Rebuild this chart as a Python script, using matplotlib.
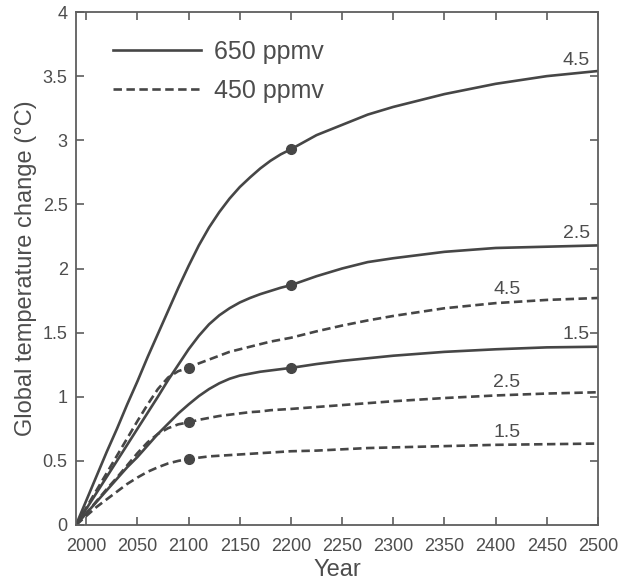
import numpy as np
import matplotlib
matplotlib.use("Agg")
import matplotlib.pyplot as plt
from matplotlib.lines import Line2D

plt.rcParams['font.family'] = ['Liberation Sans', 'DejaVu Sans']

# Years shared by every curve
years = [1990, 2000, 2010, 2020, 2030, 2040, 2050, 2060, 2070, 2080, 2090,
         2100, 2110, 2120, 2130, 2140, 2150, 2160, 2170, 2180, 2190, 2200,
         2225, 2250, 2275, 2300, 2350, 2400, 2450, 2500]

# 650 ppmv stabilisation, climate sensitivity 4.5 / 2.5 / 1.5 °C
s650_45 = [0, 0.19, 0.38, 0.57, 0.75, 0.94, 1.12, 1.31, 1.49, 1.67, 1.85,
           2.02, 2.18, 2.32, 2.44, 2.545, 2.635, 2.71, 2.78, 2.84, 2.89, 2.93,
           3.04, 3.12, 3.20, 3.26, 3.36, 3.44, 3.50, 3.54]
s650_25 = [0, 0.125, 0.25, 0.375, 0.50, 0.625, 0.75, 0.875, 1.00, 1.13, 1.25,
           1.37, 1.475, 1.565, 1.635, 1.69, 1.735, 1.77, 1.80, 1.825, 1.85, 1.87,
           1.94, 2.00, 2.05, 2.08, 2.13, 2.16, 2.17, 2.18]
s650_15 = [0, 0.09, 0.18, 0.27, 0.36, 0.45, 0.53, 0.62, 0.71, 0.79, 0.87,
           0.94, 1.005, 1.06, 1.105, 1.14, 1.165, 1.18, 1.195, 1.205, 1.215, 1.225,
           1.255, 1.28, 1.30, 1.32, 1.35, 1.37, 1.385, 1.39]

# 450 ppmv stabilisation, climate sensitivity 4.5 / 2.5 / 1.5 °C
s450_45 = [0, 0.135, 0.27, 0.405, 0.54, 0.675, 0.81, 0.94, 1.06, 1.15, 1.20,
           1.225, 1.26, 1.29, 1.32, 1.35, 1.37, 1.39, 1.41, 1.43, 1.445, 1.46,
           1.51, 1.555, 1.595, 1.63, 1.69, 1.73, 1.755, 1.77]
s450_25 = [0, 0.09, 0.185, 0.28, 0.37, 0.465, 0.56, 0.645, 0.71, 0.755, 0.785,
           0.80, 0.82, 0.835, 0.85, 0.86, 0.87, 0.88, 0.885, 0.895, 0.90, 0.905,
           0.92, 0.935, 0.95, 0.965, 0.99, 1.01, 1.025, 1.035]
s450_15 = [0, 0.07, 0.14, 0.20, 0.26, 0.32, 0.37, 0.415, 0.45, 0.48, 0.50,
           0.515, 0.525, 0.535, 0.54, 0.545, 0.55, 0.555, 0.56, 0.565, 0.57, 0.575,
           0.58, 0.59, 0.60, 0.605, 0.615, 0.625, 0.63, 0.635]

sensitivities = ["4.5", "2.5", "1.5"]
stab_year_650 = 2200
stab_year_450 = 2100
label_year_650 = 2479
label_year_450 = 2411

x_ticks = [2000, 2050, 2100, 2150, 2200, 2250, 2300, 2350, 2400, 2450, 2500]
y_ticks = [0, 0.5, 1, 1.5, 2, 2.5, 3, 3.5, 4]
y_tick_labels = ["0", "0.5", "1", "1.5", "2", "2.5", "3", "3.5", "4"]

line_col = "#464646"
text_col = "#4d4d4d"
axis_col = "#5e5e5e"
dash = (0, (3.2, 1.7))

fig = plt.figure(figsize=(6.22, 5.83), dpi=100)
ax = fig.add_axes([0.1222, 0.0995, 0.8392, 0.8799])

groups = [
    ([s650_45, s650_25, s650_15], "-", stab_year_650, label_year_650, "650 ppmv"),
    ([s450_45, s450_25, s450_15], dash, stab_year_450, label_year_450, "450 ppmv"),
]

for series, ls, stab, lab_year, name in groups:
    for vals, sens in zip(series, sensitivities):
        ax.plot(years, vals, color=line_col, lw=1.9, ls=ls,
                solid_capstyle="butt", dash_capstyle="butt",
                solid_joinstyle="round")
        ax.plot([stab], [np.interp(stab, years, vals)], "o", color=line_col,
                ms=7, zorder=5)
        ax.annotate(sens, (lab_year, np.interp(lab_year, years, vals)),
                    xytext=(0, 3), textcoords="offset points",
                    ha="center", va="bottom", fontsize=14, color=text_col)

handles = [Line2D([], [], color=line_col, lw=1.9, ls="-"),
           Line2D([], [], color=line_col, lw=1.9, ls=dash,
                  dash_capstyle="butt")]
leg = ax.legend(handles, ["650 ppmv", "450 ppmv"], loc="upper left",
                bbox_to_anchor=(0.071, 0.945), frameon=False, borderpad=0,
                borderaxespad=0, handlelength=3.5, handletextpad=0.55,
                labelspacing=0.6, fontsize=18)
for t in leg.get_texts():
    t.set_color(text_col)

ax.set_xlim(1990, 2500)
ax.set_ylim(0, 4)
ax.set_xticks(x_ticks)
ax.set_yticks(y_ticks)
ax.set_yticklabels(y_tick_labels)
ax.tick_params(direction="in", length=6, width=1.2, colors=axis_col,
               labelcolor=text_col, labelsize=13, top=True, right=True)
ax.tick_params(axis="x", pad=9.5)
ax.tick_params(axis="y", pad=6)
for sp in ax.spines.values():
    sp.set_color(axis_col)
    sp.set_linewidth(1.3)

ax.set_xlabel("Year", fontsize=17, color=text_col, labelpad=3)
ax.set_ylabel("Global temperature change (°C)", fontsize=17, color=text_col,
              labelpad=4)

fig.savefig("out.png", dpi=100)
